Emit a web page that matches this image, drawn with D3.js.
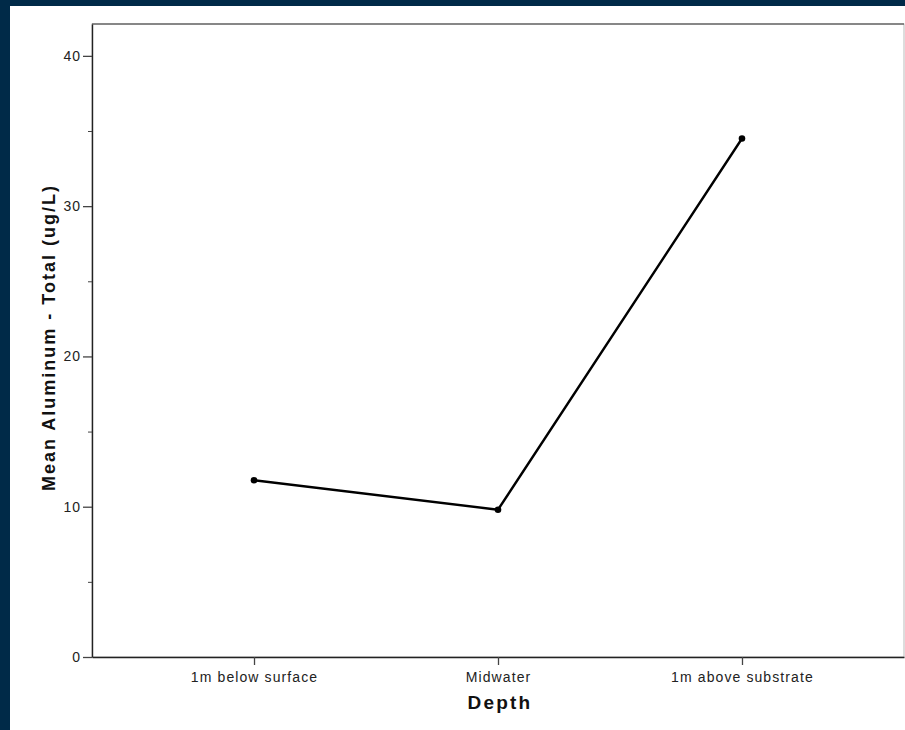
<!DOCTYPE html>
<html><head><meta charset="utf-8">
<script src="https://cdn.jsdelivr.net/npm/d3@7"></script>
<style>html,body{margin:0;padding:0;background:#002a48;}svg{display:block;}</style>
</head><body>
<script>
const categories = ["1m below surface", "Midwater", "1m above substrate"];
const values = [11.76, 9.8, 34.5];
const yTicks = [0, 10, 20, 30, 40];
const yMinorTicks = [5, 15, 25, 35];
const xTitle = "Depth";
const yTitle = "Mean Aluminum - Total (ug/L)";

const W = 905, H = 730;
const svg = d3.select("body").append("svg").attr("width", W).attr("height", H);
svg.append("rect").attr("width", W).attr("height", H).attr("fill", "#002a48");
svg.append("rect").attr("x", 10).attr("y", 6).attr("width", W - 10).attr("height", H - 6).attr("fill", "#fff");

const L = 92, R = 904, T = 24, B = 657;
const x = d3.scalePoint().domain(categories).range([L, R]).padding(0.664);
const y = d3.scaleLinear().domain([0, 42.12]).range([B, T]);

// frame
svg.append("rect").attr("x", L).attr("y", T).attr("width", R - L).attr("height", B - T)
  .attr("fill", "none").attr("stroke", "#bbb").attr("stroke-width", 1);
svg.append("line").attr("x1", L).attr("x2", R).attr("y1", T).attr("y2", T).attr("stroke", "#333").attr("stroke-width", 1.2);

const font = "'Liberation Sans', Arial, sans-serif";
// y axis
const ya = svg.append("g").attr("transform", `translate(${L},0)`)
  .call(d3.axisLeft(y).tickValues(yTicks).tickSize(9).tickSizeOuter(0).tickPadding(2).tickFormat(d3.format("d")));
ya.select(".domain").attr("stroke", "#222").attr("stroke-width", 1.4);
ya.selectAll(".tick line").attr("stroke", "#444").attr("stroke-width", 1.3);
ya.selectAll("text").attr("font-family", font).attr("font-size", 14).attr("letter-spacing", 1).attr("fill", "#222");
svg.append("g").attr("transform", `translate(${L},0)`)
  .call(d3.axisLeft(y).tickValues(yMinorTicks).tickSize(4).tickFormat(""))
  .call(g => g.select(".domain").remove())
  .selectAll(".tick line").attr("stroke", "#444").attr("stroke-width", 1);

// x axis
const xa = svg.append("g").attr("transform", `translate(0,${B})`)
  .call(d3.axisBottom(x).tickSize(8).tickSizeOuter(0).tickPadding(7));
xa.select(".domain").attr("stroke", "#222").attr("stroke-width", 1.4);
xa.selectAll(".tick line").attr("stroke", "#444").attr("stroke-width", 1.3);
xa.selectAll("text").attr("font-family", font).attr("font-size", 14).attr("letter-spacing", 1.1).attr("fill", "#222");

// titles
svg.append("text").attr("x", (L + R) / 2 + 2).attr("y", 709).attr("text-anchor", "middle")
  .attr("font-family", font).attr("font-weight", "bold").attr("font-size", 19).attr("letter-spacing", 2.2)
  .attr("fill", "#111").text(xTitle);
svg.append("text").attr("transform", `translate(55,${(T + B) / 2 - 3}) rotate(-90)`).attr("text-anchor", "middle")
  .attr("font-family", font).attr("font-weight", "bold").attr("font-size", 18).attr("letter-spacing", 2)
  .attr("fill", "#111").text(yTitle);

// line
const data = categories.map((c, i) => ({c, v: values[i]}));
svg.append("path").datum(data).attr("fill", "none").attr("stroke", "#000").attr("stroke-width", 2.4)
  .attr("stroke-linejoin", "round")
  .attr("d", d3.line().x(d => x(d.c)).y(d => y(d.v)));
svg.selectAll("circle.pt").data(data).enter().append("circle").attr("class", "pt")
  .attr("cx", d => x(d.c)).attr("cy", d => y(d.v)).attr("r", 3.3).attr("fill", "#000");
</script>
</body></html>
